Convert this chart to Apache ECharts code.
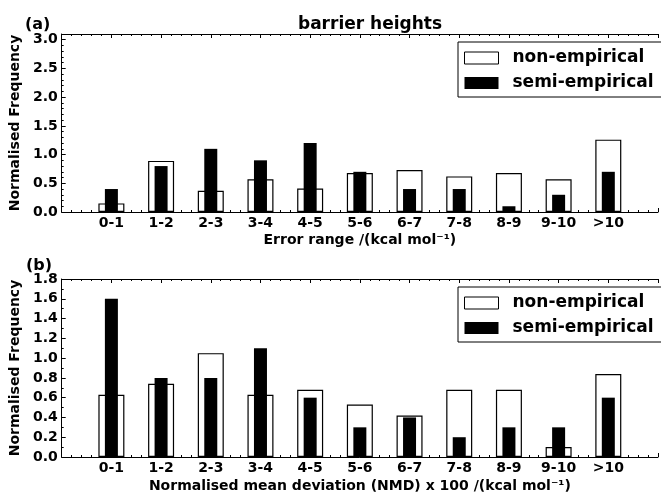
<!DOCTYPE html>
<html>
<head>
<meta charset="utf-8">
<script src="https://cdn.jsdelivr.net/npm/echarts@6/dist/echarts.min.js"></script>
<style>
  html, body { margin: 0; padding: 0; background: #fff; }
  #chart { width: 661px; height: 497px; }
</style>
</head>
<body>
<div id="chart"></div>
<script>
// Category bins shared by both panels
const categories = ['0-1', '1-2', '2-3', '3-4', '4-5', '5-6', '6-7', '7-8', '8-9', '9-10', '>10'];

// Panel (a): barrier heights, error range distribution
const nonEmpiricalA = [0.15, 0.89, 0.37, 0.57, 0.41, 0.68, 0.73, 0.62, 0.68, 0.57, 1.26];
const semiEmpiricalA = [0.40, 0.80, 1.10, 0.90, 1.20, 0.70, 0.40, 0.40, 0.10, 0.30, 0.70];

// Panel (b): normalised mean deviation distribution
const nonEmpiricalB = [0.63, 0.74, 1.05, 0.63, 0.68, 0.53, 0.42, 0.68, 0.68, 0.10, 0.84];
const semiEmpiricalB = [1.60, 0.80, 0.80, 1.10, 0.60, 0.30, 0.40, 0.20, 0.30, 0.30, 0.60];

const yTicksA = { min: 0, max: 3.1, interval: 0.5, minorSplit: 5 };
const yTicksB = { min: 0, max: 1.8, interval: 0.2, minorSplit: 2 };

const FONT = 'DejaVu Sans';
const toPoints = arr => arr.map((v, i) => [i + 1, v]);

function bottomAxis(gridIndex, name, nameGap) {
  return {
    type: 'value', gridIndex, position: 'bottom',
    min: 0, max: 12, interval: 1,
    axisLine: { show: true, lineStyle: { color: '#000', width: 1 } },
    axisTick: { show: true, inside: true, length: 4, lineStyle: { color: '#000' } },
    minorTick: { show: true, splitNumber: 5, length: 2, lineStyle: { color: '#000' } },
    splitLine: { show: false },
    axisLabel: {
      margin: 4, color: '#000', fontFamily: FONT, fontWeight: 'bold', fontSize: 14,
      formatter: v => (Number.isInteger(v) && v >= 1 && v <= categories.length) ? categories[v - 1] : ''
    },
    name, nameLocation: 'middle', nameGap,
    nameTextStyle: { color: '#000', fontFamily: FONT, fontWeight: 'bold', fontSize: 14 }
  };
}

function topAxis(gridIndex) {
  return {
    type: 'value', gridIndex, position: 'top',
    min: 0, max: 12, interval: 1,
    axisLine: { show: true, lineStyle: { color: '#000', width: 1 } },
    axisTick: { show: true, inside: true, length: 4, lineStyle: { color: '#000' } },
    minorTick: { show: true, splitNumber: 5, length: 2, lineStyle: { color: '#000' } },
    splitLine: { show: false },
    axisLabel: { show: false }
  };
}

function leftAxis(gridIndex, t) {
  return {
    type: 'value', gridIndex, position: 'left',
    min: t.min, max: t.max, interval: t.interval,
    axisLine: { show: true, lineStyle: { color: '#000', width: 1 } },
    axisTick: { show: true, inside: true, length: 4, lineStyle: { color: '#000' } },
    minorTick: { show: true, splitNumber: t.minorSplit, length: 2, lineStyle: { color: '#000' } },
    splitLine: { show: false },
    axisLabel: {
      margin: 4, color: '#000', fontFamily: FONT, fontWeight: 'bold', fontSize: 14,
      showMaxLabel: t.max === 1.8,
      formatter: v => v.toFixed(1)
    },
    name: 'Normalised Frequency', nameLocation: 'middle', nameGap: 33,
    nameTextStyle: { color: '#000', fontFamily: FONT, fontWeight: 'bold', fontSize: 14 }
  };
}

function legendAt(top) {
  return {
    orient: 'vertical', left: 458, top,
    borderColor: '#000', borderWidth: 1, borderRadius: 0,
    padding: [6, 12, 4, 6], itemGap: 5,
    itemWidth: 34, itemHeight: 12,
    selectedMode: false,
    textStyle: { color: '#000', fontFamily: FONT, fontWeight: 'bold', fontSize: 17, lineHeight: 20, padding: [0, 0, 0, 9] },
    data: [
      { name: 'non-empirical', icon: 'rect', itemStyle: { color: '#fff', borderColor: '#000', borderWidth: 1 } },
      { name: 'semi-empirical', icon: 'rect', itemStyle: { color: '#000', borderWidth: 0 } }
    ]
  };
}

function whiteBars(xi, yi, data) {
  return {
    name: 'non-empirical', type: 'bar', xAxisIndex: xi, yAxisIndex: yi,
    barWidth: 26, data: toPoints(data), z: 2,
    itemStyle: { color: '#fff', borderColor: '#000', borderWidth: 1.2 },
    emphasis: { disabled: true }
  };
}

function blackBars(xi, yi, data) {
  return {
    name: 'semi-empirical', type: 'bar', xAxisIndex: xi, yAxisIndex: yi,
    barWidth: 13, data: toPoints(data), z: 3,
    itemStyle: { color: '#000' },
    emphasis: { disabled: true }
  };
}

const chart = echarts.init(document.getElementById('chart'), null, { renderer: 'canvas' });
chart.setOption({
  animation: false,
  backgroundColor: '#fff',
  title: [
    { text: 'barrier heights', left: 365, textAlign: 'center', top: 11,
      textStyle: { color: '#000', fontFamily: FONT, fontWeight: 'bold', fontSize: 17 } },
    { text: '(a)', left: 20, top: 12,
      textStyle: { color: '#000', fontFamily: FONT, fontWeight: 'bold', fontSize: 16 } },
    { text: '(b)', left: 21, top: 253,
      textStyle: { color: '#000', fontFamily: FONT, fontWeight: 'bold', fontSize: 16 } }
  ],
  legend: [legendAt(42), legendAt(287)],
  grid: [
    { left: 61, right: -7, top: 34, bottom: 285 },
    { left: 61, right: -7, top: 279, bottom: 40 }
  ],
  xAxis: [
    bottomAxis(0, 'Error range /(kcal mol⁻¹)', 21),
    topAxis(0),
    bottomAxis(1, 'Normalised mean deviation (NMD) x 100 /(kcal mol⁻¹)', 22),
    topAxis(1)
  ],
  yAxis: [leftAxis(0, yTicksA), leftAxis(1, yTicksB)],
  series: [
    whiteBars(0, 0, nonEmpiricalA),
    blackBars(1, 0, semiEmpiricalA),
    whiteBars(2, 1, nonEmpiricalB),
    blackBars(3, 1, semiEmpiricalB)
  ]
});
</script>
</body>
</html>
